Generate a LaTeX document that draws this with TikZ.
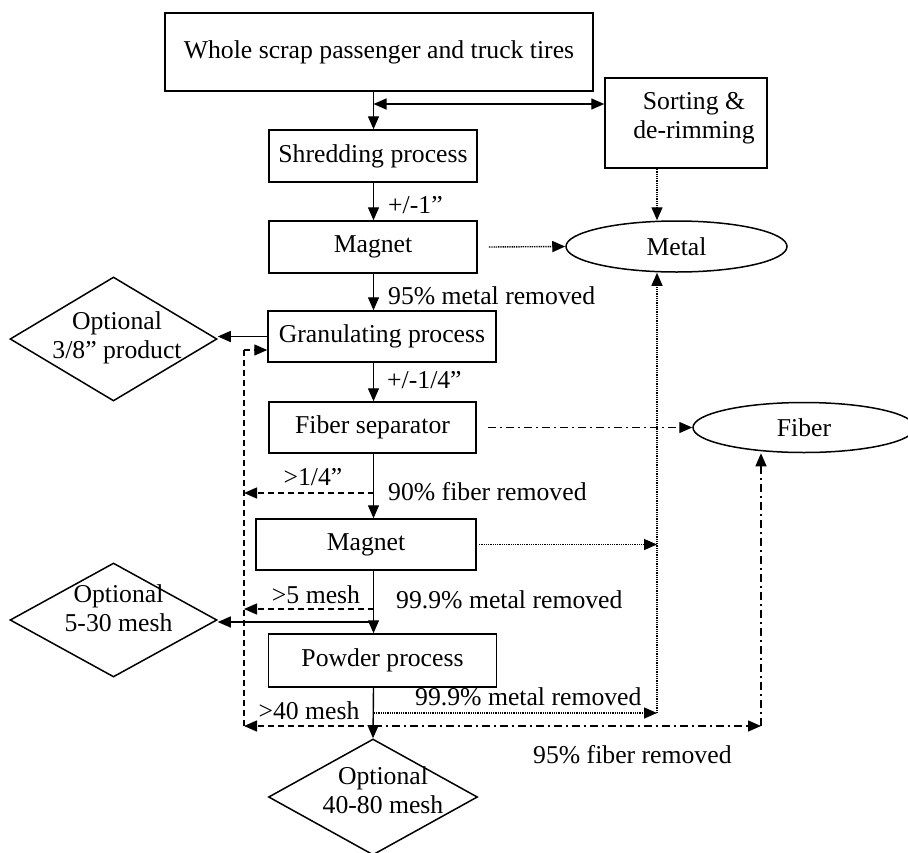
\documentclass[tikz,border=0pt]{standalone}
\usepackage{fontspec}
\setmainfont{Liberation Serif}
\usetikzlibrary{arrows.meta,shapes.geometric}
\begin{document}
\begin{tikzpicture}[x=1pt,y=-1pt,
  font=\fontsize{25.7pt}{29pt}\selectfont,
  box/.style={draw, rectangle, line width=1.5pt, inner sep=0pt},
  oval/.style={draw, ellipse, line width=1.5pt, inner sep=0pt},
  dia/.style={draw, diamond, line width=1.5pt, inner sep=0pt},
  lbl/.style={inner sep=0pt, align=center},
  arr/.style={-{Triangle[length=13pt,width=11pt]}, line width=1.4pt},
  darr/.style={{Triangle[length=13pt,width=11pt]}-{Triangle[length=13pt,width=11pt]}, line width=1.4pt},
  dotl/.style={line width=1.4pt, dash pattern=on 1pt off 0.8pt},
  dashl/.style={line width=1.4pt, dash pattern=on 6pt off 4pt},
  dashdotl/.style={line width=1.4pt, dash pattern=on 8pt off 4pt on 2pt off 4pt}]
\useasboundingbox (0,0) rectangle (908,852);

% boxes
\node[box, minimum width=428pt, minimum height=78pt] (top) at (379,52) {Whole scrap passenger and truck tires};
\node[box, minimum width=162pt, minimum height=90pt] (sorting) at (686,123) {};
\node[lbl] (sortt) at (694,118) {Sorting \&\\de-rimming};
\node[box, minimum width=208pt, minimum height=52pt] (shred) at (373,156) {Shredding process};
\node[box, minimum width=208pt, minimum height=52pt] (mag1) at (373,247) {Magnet};
\node[box, minimum width=228pt, minimum height=51pt] (gran) at (382,336.5) {Granulating process};
\node[box, minimum width=207pt, minimum height=51pt] (fsep) at (372.5,427.5) {Fiber separator};
\node[box, minimum width=220pt, minimum height=51pt] (mag2) at (366,544.5) {Magnet};
\node[box, minimum width=228pt, minimum height=53pt] (powder) at (382.5,660.5) {Powder process};

% ellipses
\node[oval, minimum width=221pt, minimum height=51pt] (metal) at (676.5,246.5) {Metal};
\node[oval, minimum width=222pt, minimum height=50pt] (fiber) at (804,427.5) {Fiber};

% diamonds
\node[dia, minimum width=207pt, minimum height=124pt] (d1) at (113.5,339) {};
\node[lbl] (t1) at (117,337.5) {Optional\\3/8” product};
\node[dia, minimum width=207pt, minimum height=114pt] (d2) at (113.5,620) {};
\node[lbl] (t2) at (118.5,608) {Optional\\5-30 mesh};
\node[dia, minimum width=209pt, minimum height=116pt] (d3) at (373,797) {};
\node[lbl] (t3) at (383,790) {Optional\\40-80 mesh};

% labels
\node[lbl, anchor=west] (l1) at (388,205) {+/-1”};
\node[lbl, anchor=west] (l2) at (388,296) {95\% metal removed};
\node[lbl, anchor=west] (l3) at (387,380) {+/-1/4”};
\node[lbl] (l4) at (313,477) {>1/4”};
\node[lbl, anchor=west] (l5) at (388,492) {90\% fiber removed};
\node[lbl] (l6) at (316,595) {>5 mesh};
\node[lbl, anchor=west] (l7) at (396,600) {99.9\% metal removed};
\node[lbl, anchor=west] (l8) at (415,697) {99.9\% metal removed};
\node[lbl] (l9) at (309,711) {>40 mesh};
\node[lbl, anchor=west] (l10) at (533,755) {95\% fiber removed};

% helper coordinates
\coordinate (mx) at (373.5,0);
\coordinate (mv) at (657,0);
\coordinate (rx) at (244,0);
\coordinate (jn) at (373.5,104);
\coordinate (r1) at (244,350);
\coordinate (rb) at (244,726);
\coordinate (a14) at (373.5,493);
\coordinate (a5) at (373.5,609);
\coordinate (a530) at (373.5,622);
\coordinate (a40) at (374,713);
\coordinate (b0) at (373.5,726);
\coordinate (fv) at (761,726);

% main flow
\draw[arr] (top.south -| mx) -- (shred.north -| mx);
\draw[darr] (jn) -- (jn -| sorting.west);
\draw[arr] (shred.south -| mx) -- (mag1.north -| mx);
\draw[arr] (mag1.south -| mx) -- (gran.north -| mx);
\draw[arr] (gran.south -| mx) -- (fsep.north -| mx);
\draw[arr] (fsep.south -| mx) -- (mag2.north -| mx);
\draw[arr] (mag2.south -| mx) -- (powder.north -| mx);
\draw[arr] (powder.south -| mx) -- (d3.north);

% side products
\draw[arr] (gran.west) -- (gran.west -| d1.east);
\draw[arr] (a530) -- (a530 -| d2.east);

% metal lines
\draw[dotl, arr] (sorting.south -| mv) -- (mv |- metal.north);
\draw[dotl, arr] ([xshift=11pt]mag1.east) -- (metal.west);
\draw[dotl, arr] ([xshift=2pt]mag2.east) -- (mag2.east -| mv);
\draw[dotl, arr] (a40) -- (a40 -| mv);
\draw[dotl, arr] (a40 -| mv) -- (mv |- metal.south);

% fiber lines
\draw[dashdotl, arr] ([xshift=11pt]fsep.east) -- (fiber.west);
\draw[dashdotl, arr] (b0) -- (fv);
\draw[dashdotl, arr] (fv) -- (fv |- fiber.south);

% recycle lines
\draw[dashl] (r1) -- (rb);
\draw[dashl, arr] (r1) -- (r1 -| gran.west);
\draw[dashl, arr] (a14) -- (a14 -| rx);
\draw[dashl, arr] (a5) -- (a5 -| rx);
\draw[dashl, arr] (b0) -- (rb);
\end{tikzpicture}
\end{document}
